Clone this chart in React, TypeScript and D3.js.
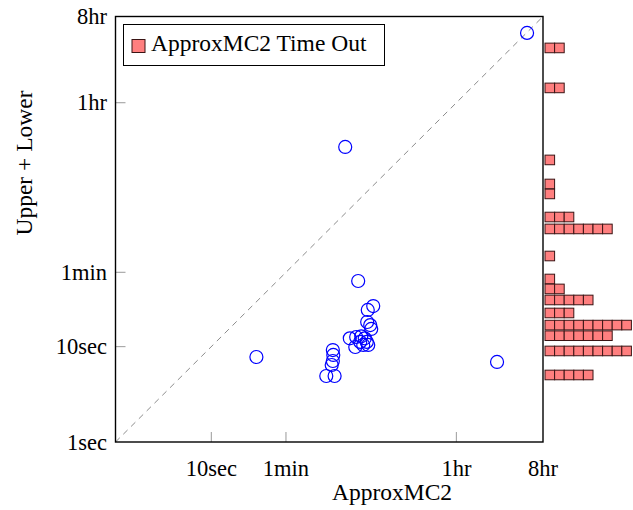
import React from "react";
import * as d3 from "d3";

// ApproxMC2 time (s), Upper + Lower time (s)
const approxTimes = [19640, 249, 340, 29.5, 9550, 488, 428, 422, 454, 465, 278, 324, 366, 398, 357, 418, 384, 433, 317, 185, 187, 185, 180, 158, 193];
const upperLowerTimes = [19380, 1236, 48.7, 7.78, 6.9, 26.6, 24.2, 18.1, 16.8, 15.3, 12.2, 12.6, 12.8, 12.2, 11.2, 11.2, 10.4, 10.4, 9.9, 9.2, 8.17, 7.06, 6.41, 4.92, 4.92];

// ApproxMC2 time-outs: Upper + Lower time (s) and number of instances
const timeoutTimes = [13490, 5140, 904, 506, 398, 228, 171, 89, 51.1, 40.2, 30.8, 22.5, 16.8, 13.0, 9.0, 5.04];
const timeoutCounts = [2, 2, 1, 1, 1, 3, 7, 1, 1, 2, 5, 3, 9, 7, 9, 5];

const tickValues = [1, 10, 60, 3600, 28800];
const tickLabels = ["1sec", "10sec", "1min", "1hr", "8hr"];

const W = 633;
const H = 510;
const FONT = "'Liberation Serif', 'Times New Roman', serif";

export default function App() {
  const x = d3.scaleLog().domain([1, 28800]).range([115.5, 543]);
  const y = d3.scaleLog().domain([1, 28800]).range([442, 16.5]);
  const sq = 9.6;
  const sqStart = x(28800) + 2;

  const squares: { key: string; x: number; y: number }[] = [];
  timeoutTimes.forEach((t, r) => {
    for (let i = 0; i < timeoutCounts[r]; i++) {
      squares.push({ key: `${r}-${i}`, x: sqStart + i * sq, y: y(t) - sq / 2 });
    }
  });

  return (
    <svg
      width={W}
      height={H}
      style={{ position: "absolute", left: 0, top: 0, background: "#fff" }}
      fontFamily={FONT}
    >
      {/* diagonal */}
      <line
        x1={x(1)}
        y1={y(1)}
        x2={x(28800)}
        y2={y(28800)}
        stroke="#8c8c8c"
        strokeWidth={1}
        strokeDasharray="6 5"
      />
      {/* ticks */}
      {tickValues.slice(1, 4).map((v) => (
        <line key={"xt" + v} x1={x(v)} x2={x(v)} y1={y(1)} y2={y(1) - 10} stroke="#aaa" strokeWidth={1.2} />
      ))}
      {tickValues.slice(1, 4).map((v) => (
        <line key={"yt" + v} x1={x(1)} x2={x(1) + 10} y1={y(v)} y2={y(v)} stroke="#aaa" strokeWidth={1.2} />
      ))}
      {/* frame */}
      <rect
        x={x(1)}
        y={y(28800)}
        width={x(28800) - x(1)}
        height={y(1) - y(28800)}
        fill="none"
        stroke="#000"
        strokeWidth={1.4}
      />
      {/* scatter */}
      {approxTimes.map((a, i) => (
        <circle key={"c" + i} cx={x(a)} cy={y(upperLowerTimes[i])} r={6.5} fill="none" stroke="#0000ff" strokeWidth={1.2} />
      ))}
      {/* time-out squares */}
      {squares.map((s) => (
        <rect key={s.key} x={s.x} y={s.y} width={sq} height={sq} fill="#ff7f7f" stroke="#3a1414" strokeWidth={1} />
      ))}
      {/* x tick labels */}
      {tickValues.slice(1).map((v, i) => (
        <text key={"xl" + v} x={x(v)} y={476} textAnchor="middle" fontSize={22.5}>
          {tickLabels[i + 1]}
        </text>
      ))}
      {/* y tick labels */}
      {tickValues.map((v, i) => (
        <text key={"yl" + v} x={107} y={y(v) + 7.5} textAnchor="end" fontSize={22.5}>
          {tickLabels[i]}
        </text>
      ))}
      {/* axis titles */}
      <text x={392} y={500} textAnchor="middle" fontSize={23.5}>
        ApproxMC2
      </text>
      <text transform="translate(32,163) rotate(-90)" textAnchor="middle" fontSize={23.5}>
        Upper + Lower
      </text>
      {/* legend */}
      <rect x={123.5} y={24.5} width={261} height={41} fill="#fff" stroke="#000" strokeWidth={1} />
      <rect x={132} y={39.5} width={13} height={13} fill="#ff7f7f" stroke="#3a1414" strokeWidth={1} />
      <text x={151} y={50.5} fontSize={23.5}>
        ApproxMC2 Time Out
      </text>
    </svg>
  );
}
